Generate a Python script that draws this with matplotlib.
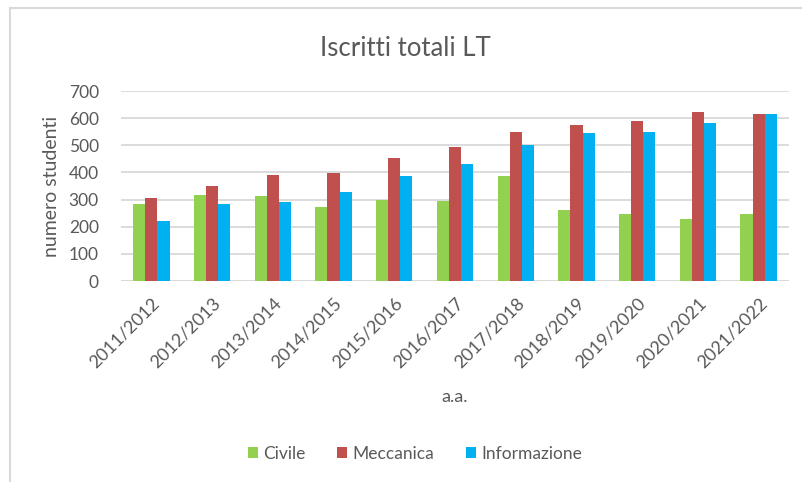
import numpy as np
import matplotlib.pyplot as plt
from matplotlib.lines import Line2D

plt.rcParams['font.family'] = ['Lato', 'DejaVu Sans']

anni = ['2011/2012', '2012/2013', '2013/2014', '2014/2015', '2015/2016', '2016/2017',
        '2017/2018', '2018/2019', '2019/2020', '2020/2021', '2021/2022']
civile = [285, 316, 312, 273, 300, 296, 387, 262, 246, 230, 246]
meccanica = [305, 351, 390, 398, 453, 492, 548, 575, 591, 621, 614]
informazione = [221, 284, 292, 328, 387, 430, 501, 544, 548, 582, 614]

grigio = '#595959'
fig = plt.figure(figsize=(8.02, 4.82), dpi=100)
ax = fig.add_axes([121 / 802, 1 - 281 / 482, 668 / 802, 190 / 482])

x = np.arange(len(anni))
w = 0.2
ax.bar(x - w, civile, w, color='#92D050', label='Civile', zorder=3)
ax.bar(x, meccanica, w, color='#C0504D', label='Meccanica', zorder=3)
ax.bar(x + w, informazione, w, color='#00B0F0', label='Informazione', zorder=3)

ax.set_xlim(-0.5, len(anni) - 0.5)
ax.set_ylim(0, 700)
ax.set_yticks(range(0, 701, 100))
ax.yaxis.grid(True, color='#D9D9D9', linewidth=1.3, zorder=0)
for s in ax.spines.values():
    s.set_visible(False)
ax.axhline(0, color='#D9D9D9', linewidth=1.3, zorder=2)
ax.tick_params(length=0, colors=grigio)
ax.tick_params(axis='y', pad=16, labelsize=12.5)
ax.set_xticks(x)
ax.set_xticklabels(anni, rotation=45, ha='right', rotation_mode='anchor')
ax.tick_params(axis='x', pad=10, labelsize=13)

ax.set_ylabel('numero studenti', color=grigio, fontsize=14, labelpad=6)
fig.text(455 / 802, 1 - 397 / 482, 'a.a.', color=grigio, fontsize=13, ha='center', va='center')
fig.text(405 / 802, 1 - 48 / 482, 'Iscritti totali LT', color=grigio, fontsize=18.5,
         ha='center', va='center')

fig.legend(loc='center', bbox_to_anchor=(415 / 802, 1 - 454 / 482), ncol=3, frameon=False,
           fontsize=12.5, handlelength=0.6, handleheight=0.6, handletextpad=0.3,
           columnspacing=1.8, labelcolor=grigio)

fig.add_artist(Line2D([10 / 802, 10 / 802], [0, 1 - 8 / 482], transform=fig.transFigure,
                      color='#D9D9D9', linewidth=1.5))
fig.add_artist(Line2D([10 / 802, 1], [1 - 8 / 482, 1 - 8 / 482], transform=fig.transFigure,
                      color='#D9D9D9', linewidth=1.5))

fig.savefig('out.png', dpi=100)
